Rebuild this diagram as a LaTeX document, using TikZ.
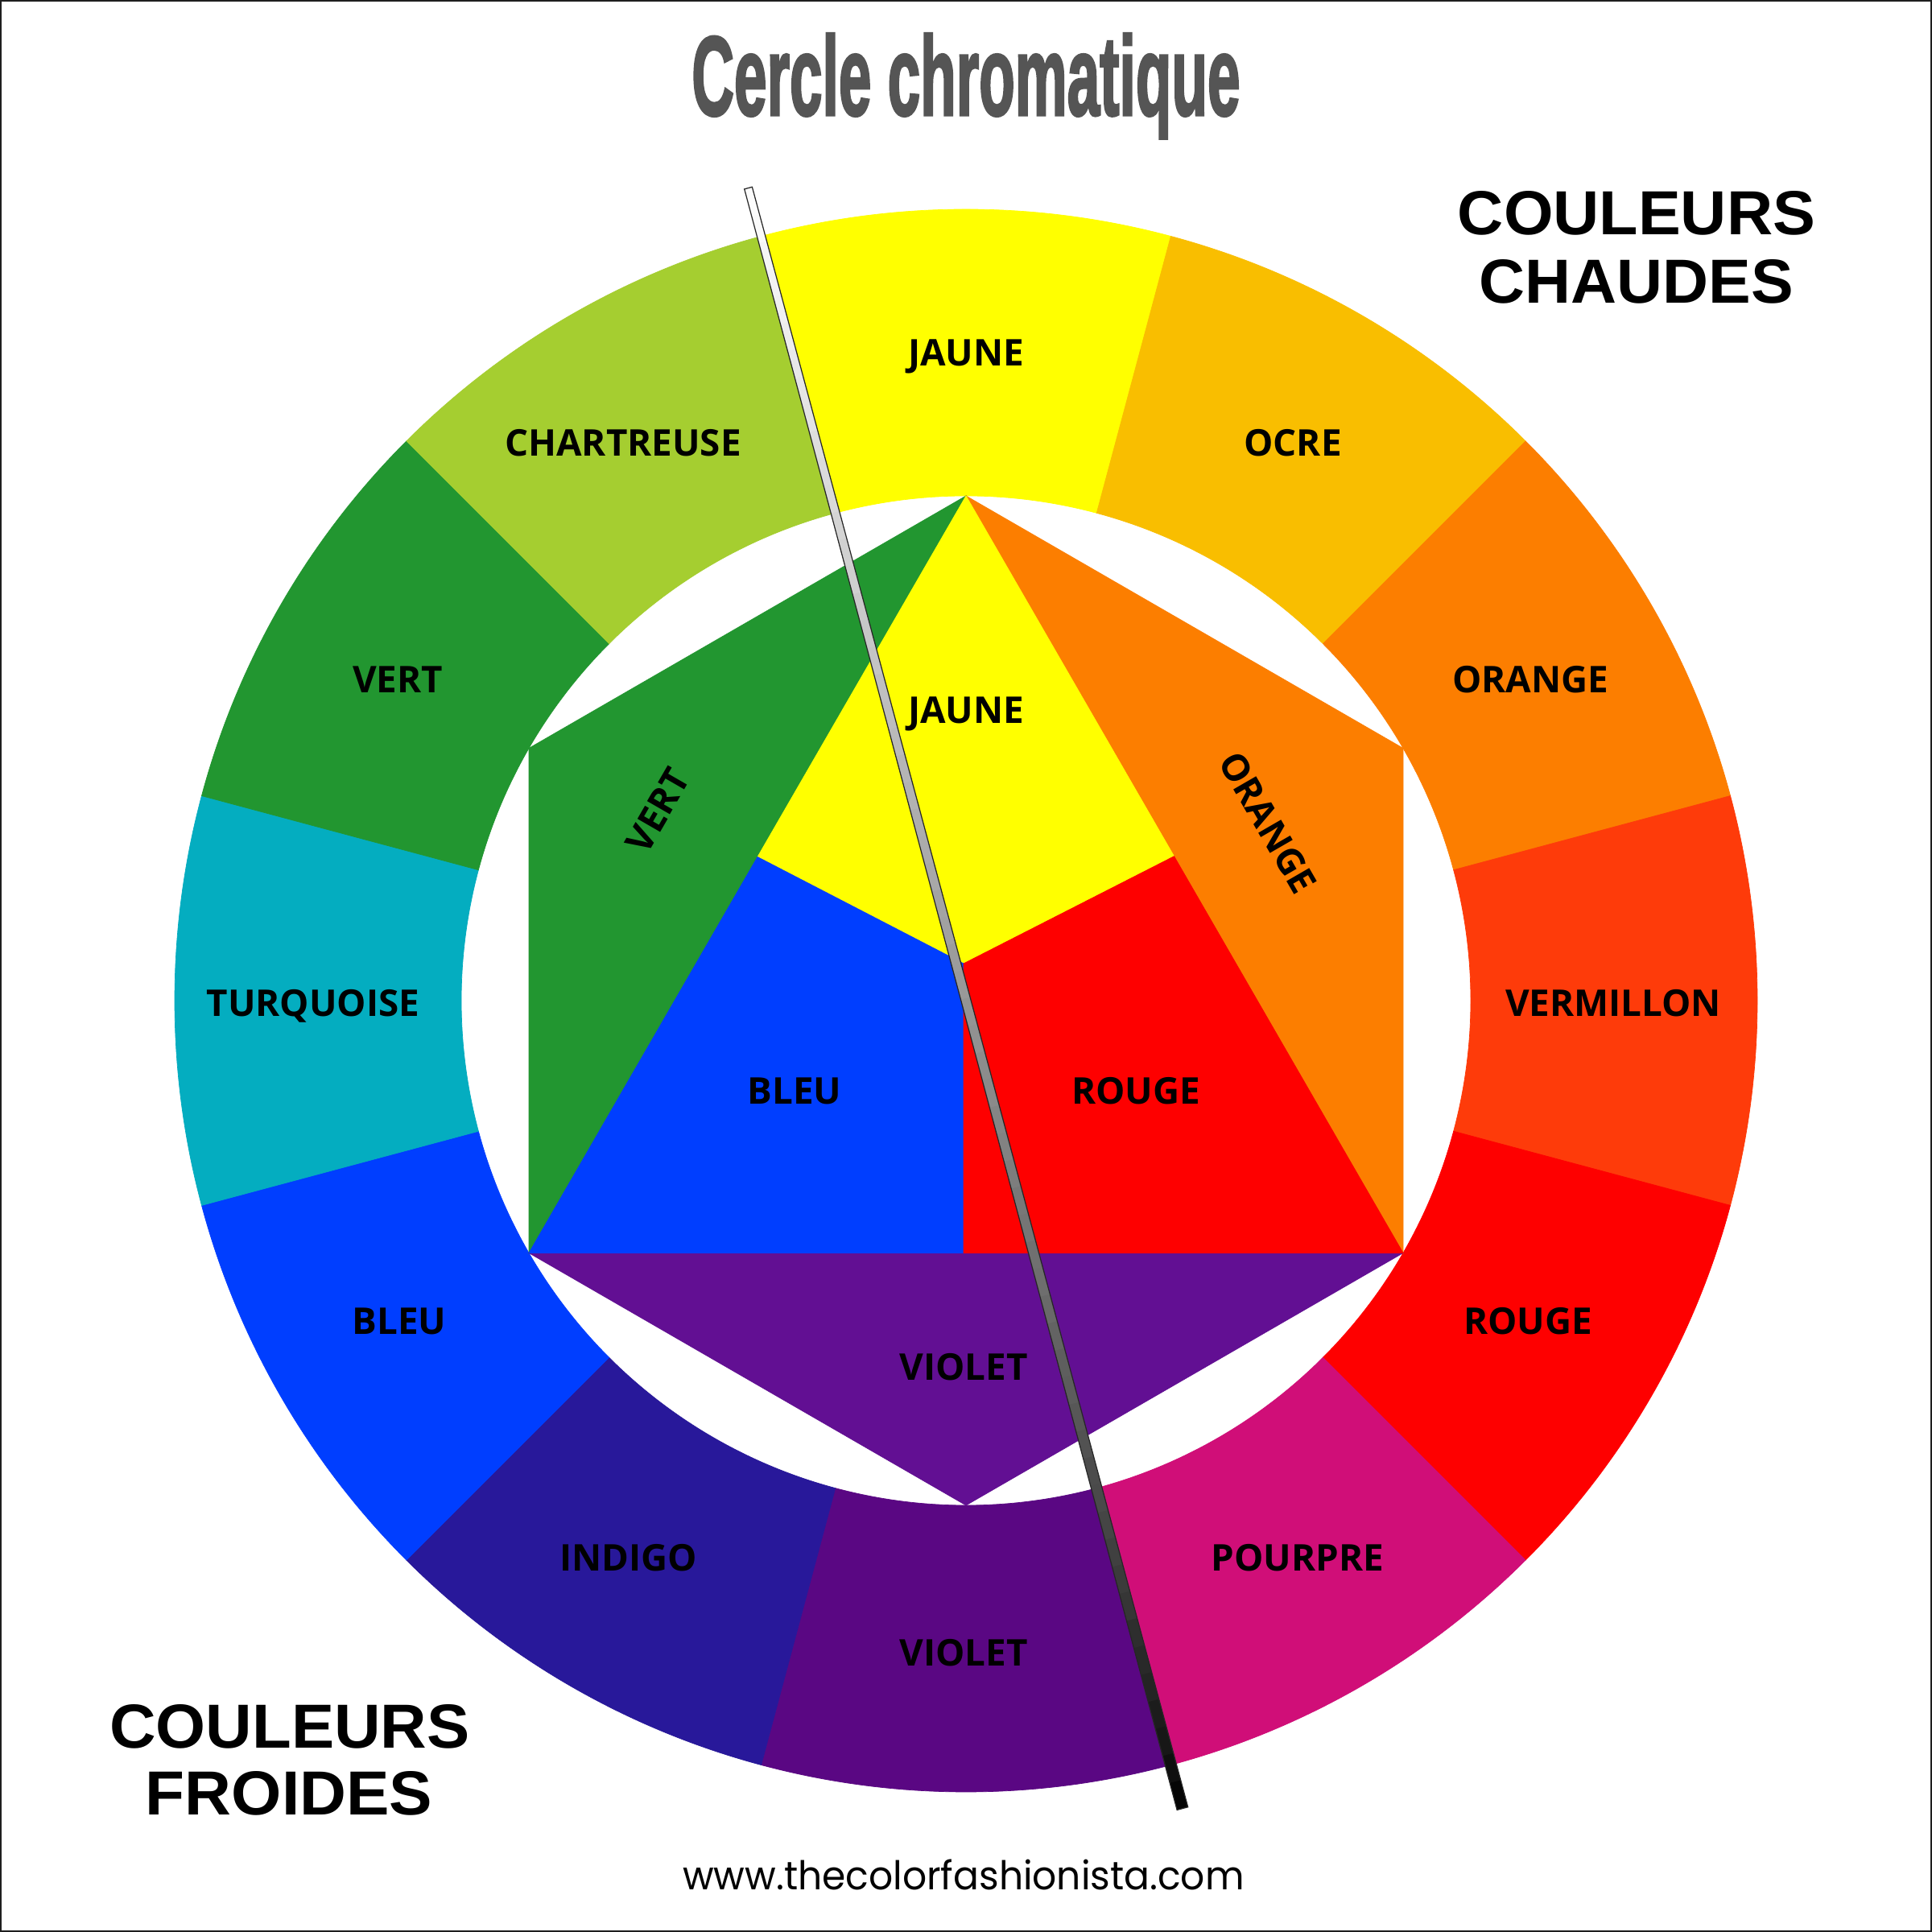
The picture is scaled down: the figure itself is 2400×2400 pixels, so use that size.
\documentclass[tikz,border=0pt]{standalone}
\usepackage{graphicx}
\usepackage{fontspec}
\setmainfont{Open Sans}
\newfontfamily\labfont{Open Sans}
\newfontfamily\arialfont{Liberation Sans}
\newfontfamily\titlefont{Liberation Sans}[BoldFeatures={FakeBold=2.5}]
\newfontfamily\urlfont{Poppins}
\usetikzlibrary{calc}
\definecolor{cJaune}{HTML}{FFFF00}
\definecolor{cOcre}{HTML}{F9BE00}
\definecolor{cOrange}{HTML}{FC7E00}
\definecolor{cVerm}{HTML}{FE3B0A}
\definecolor{cRouge}{HTML}{FE0000}
\definecolor{cPourpre}{HTML}{D00E78}
\definecolor{cViolet}{HTML}{5A0783}
\definecolor{cIndigo}{HTML}{28189A}
\definecolor{cBleu}{HTML}{003EFF}
\definecolor{cTurq}{HTML}{04ADC0}
\definecolor{cVert}{HTML}{229630}
\definecolor{cChart}{HTML}{A5CE30}
\definecolor{cVioletIn}{HTML}{620F93}
\definecolor{cTitle}{HTML}{555555}
\definecolor{cFrame}{HTML}{1E1E1E}
\tikzset{
  lab/.style={font=\labfont\bfseries\fontsize{13pt}{15pt}\selectfont, text=black, inner sep=0pt, anchor=base},
  rlab/.style={font=\labfont\bfseries\fontsize{13pt}{15pt}\selectfont, text=black, inner sep=0pt, anchor=center},
  big/.style={font=\arialfont\bfseries\fontsize{22pt}{26pt}\selectfont, text=black, inner sep=0pt, anchor=base},
}
\begin{document}
\begin{tikzpicture}[x=0.01cm,y=0.01cm]
\useasboundingbox (0,0) rectangle (2400,2400);
\fill[white] (0,0) rectangle (2400,2400);
\draw[line width=0.6pt, cFrame] (1,1) rectangle (2399,2399);
\coordinate (O) at (1200,1157);
% outer ring
\foreach \a/\c in {90/cJaune,60/cOcre,30/cOrange,0/cVerm,-30/cRouge,-60/cPourpre,-90/cViolet,-120/cIndigo,-150/cBleu,180/cTurq,150/cVert,120/cChart} {
  \fill[\c, draw=\c, line width=0.2pt] ($(O)+(\a-15:983)$) arc[start angle=\a-15, end angle=\a+15, radius=983]
    -- ($(O)+(\a+15:627)$) arc[start angle=\a+15, end angle=\a-15, radius=627] -- cycle;
}
% inner figure
\coordinate (T) at ($(O)+(90:627)$);
\coordinate (UL) at ($(O)+(150:627)$);
\coordinate (LL) at ($(O)+(210:627)$);
\coordinate (B) at ($(O)+(270:627)$);
\coordinate (LR) at ($(O)+(330:627)$);
\coordinate (UR) at ($(O)+(30:627)$);
\coordinate (P1) at (941,1335.5);
\coordinate (P2) at (1458.5,1336.3);
\coordinate (C) at (1197,1203);
\coordinate (Q) at (1197,843.5);
\fill[cVert, draw=cVert, line width=0.2pt] (T) -- (UL) -- (LL) -- cycle;
\fill[cOrange, draw=cOrange, line width=0.2pt] (T) -- (UR) -- (LR) -- cycle;
\fill[cVioletIn, draw=cVioletIn, line width=0.2pt] (LL) -- (B) -- (LR) -- cycle;
\fill[cJaune, draw=cJaune, line width=0.2pt] (T) -- (P1) -- (C) -- (P2) -- cycle;
\fill[cBleu, draw=cBleu, line width=0.2pt] (P1) -- (C) -- (Q) -- (LL) -- cycle;
\fill[cRouge, draw=cRouge, line width=0.2pt] (P2) -- (LR) -- (Q) -- (C) -- cycle;
% needle
\begin{scope}[shift={(O)}, rotate=15]
\foreach \i in {0,...,59} {
  \pgfmathsetmacro\ya{-1039+\i*34.7333}
  \pgfmathsetmacro\yb{\ya+35.7333}
  \pgfmathsetmacro\wa{7-2*(\ya+1039)/2084}
  \pgfmathsetmacro\wb{7-2*(\yb+1039)/2084}
  \pgfmathtruncatemacro\p{100*((\i+0.5)/60)^0.75}
  \fill[white!\p!black] (-\wa,\ya) -- (\wa,\ya) -- (\wb,\yb) -- (-\wb,\yb) -- cycle;
}
\draw[line width=0.35pt, black!85] (-7,-1039) -- (7,-1039) -- (5,1045) -- (-5,1045) -- cycle;
\end{scope}
% ring labels (baselines)
\node[lab] (rJ) at (1200,1945) {JAUNE};
\node[lab] (rOc) at (1606,1833) {OCRE};
\node[lab] (rOr) at (1901,1539) {ORANGE};
\node[lab] (rVm) at (2004,1137) {VERMILLON};
\node[lab] (rR) at (1898,742) {ROUGE};
\node[lab] (rP) at (1612,448) {POURPRE};
\node[lab] (rV) at (1197,330) {VIOLET};
\node[lab] (rI) at (781,448) {INDIGO};
\node[lab] (rB) at (496,742) {BLEU};
\node[lab] (rT) at (389,1137) {TURQUOISE};
\node[lab] (rG) at (494,1539) {VERT};
\node[lab] (rC) at (774,1833) {CHARTREUSE};
% inner labels
\node[lab] (iJ) at (1200,1501) {JAUNE};
\node[lab] (iB) at (987,1028) {BLEU};
\node[lab] (iR) at (1411,1028) {ROUGE};
\node[lab] (iV) at (1197,685) {VIOLET};
\node[rlab, rotate=60] (iG) at (817,1393) {VERT};
\node[rlab, rotate=-60] (iO) at (1575,1378) {ORANGE};
% titles
\node[anchor=base, inner sep=0pt, text=cTitle] (title) at (1200,2257)
  {\resizebox{6.81cm}{\height}{\titlefont\bfseries\fontsize{39.8pt}{40pt}\selectfont Cercle chromatique}};
\node[big] (ch1) at (2033,2108) {\resizebox{4.44cm}{\height}{COULEURS}};
\node[big] (ch2) at (2033,2023) {\resizebox{3.90cm}{\height}{CHAUDES}};
\node[big] (fr1) at (360,228) {\resizebox{4.47cm}{\height}{COULEURS}};
\node[big] (fr2) at (359,145) {\resizebox{3.56cm}{\height}{FROIDES}};
\node[anchor=base, inner sep=0pt, text=black] (url) at (1197,53)
  {\resizebox{6.97cm}{\height}{\urlfont\fontsize{14pt}{16pt}\selectfont www.thecolorfashionista.com}};
\end{tikzpicture}
\end{document}
